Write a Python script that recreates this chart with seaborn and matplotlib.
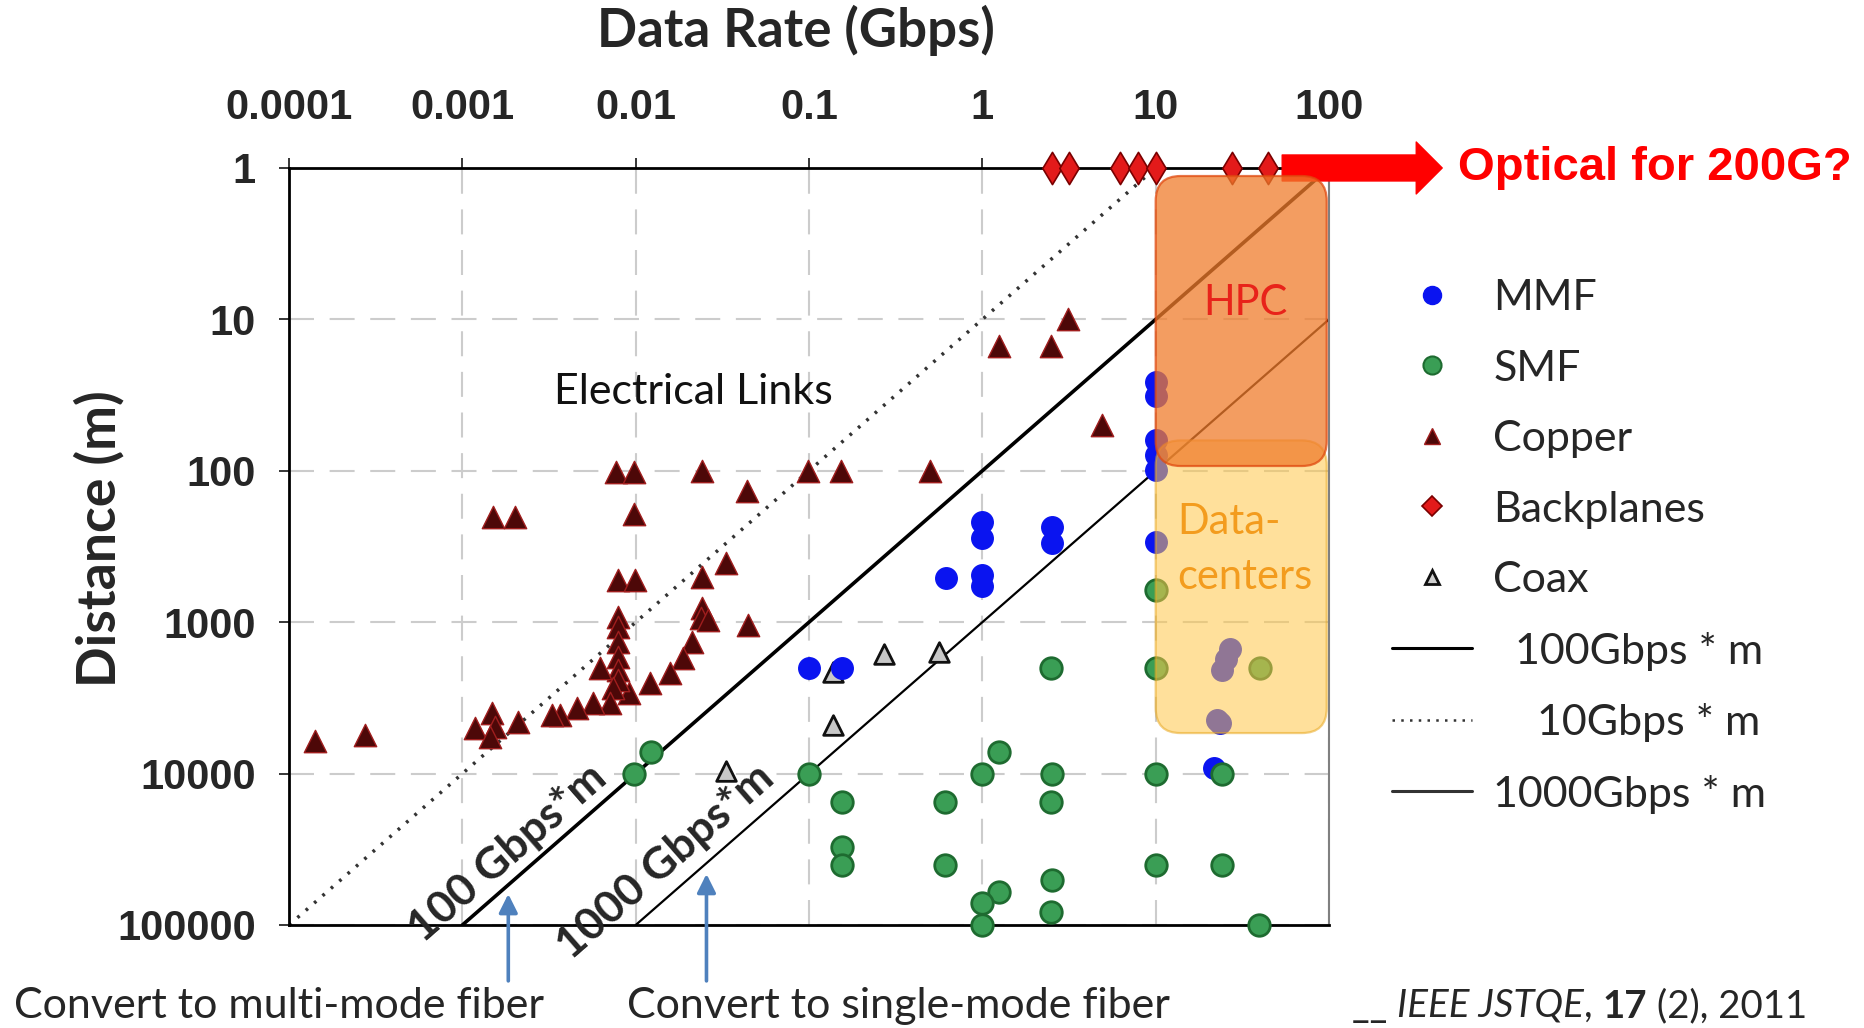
import numpy as np
import matplotlib
matplotlib.use("Agg")
import matplotlib.pyplot as plt
from matplotlib.lines import Line2D
from matplotlib.patches import FancyBboxPatch
from matplotlib.ticker import NullLocator
import seaborn as sns

# axis ticks
rate_ticks = [0.0001, 0.001, 0.01, 0.1, 1, 10, 100]
rate_labels = ["0.0001", "0.001", "0.01", "0.1", "1", "10", "100"]
dist_ticks = [1, 10, 100, 1000, 10000, 100000]
dist_labels = ["1", "10", "100", "1000", "10000", "100000"]

# link data (rate in Gbps, distance in m)
mmf_rate = [0.1, 0.155, 0.62, 1, 1, 1, 1, 2.52, 2.52,
            10, 10, 10, 10, 10, 10, 27, 25.5, 24, 23.6, 22.5, 21.6]
mmf_dist = [2000, 2000, 513, 490, 576, 217, 279, 234, 302,
            26, 32, 63, 79, 99, 294, 1500, 1750, 2070, 4650, 4400, 9230]

smf_rate = [0.0098, 0.0122, 0.1, 0.155, 0.155, 0.155, 0.61, 0.61,
            1, 1.24, 1.24, 1, 1, 2.5, 2.52, 2.5, 2.52, 2.5,
            10, 10, 10, 10, 24.1, 24, 39.2, 40]
smf_dist = [10000, 7170, 10000, 15300, 30400, 40100, 15300, 40100,
            10000, 7170, 60300, 72000, 100000, 2000, 10000, 15300, 50400, 81700,
            613, 2000, 10000, 40100, 10000, 40100, 100000, 2000]

copper_rate = [0.000142, 0.000275, 0.00151, 0.00201,
               0.0077, 0.0098, 0.0098, 0.024, 0.044, 0.098, 0.153, 0.50,
               1.25, 2.5, 3.13, 4.87,
               0.0079, 0.0099, 0.024, 0.0332, 0.024, 0.0237, 0.026, 0.0447,
               0.0211, 0.0188, 0.0158, 0.0121, 0.0091,
               0.0079, 0.0079, 0.0079, 0.0079, 0.0079, 0.0079,
               0.0074, 0.0071, 0.0062, 0.0057, 0.00457, 0.00366, 0.00328,
               0.0021, 0.00148, 0.00154, 0.00118, 0.00145]
copper_dist = [6090, 5560, 203, 203,
               102, 102, 192, 100, 136, 100, 100, 100,
               15, 15, 10, 50,
               526, 526, 500, 408, 810, 943, 967, 1043,
               1344, 1731, 2176, 2535, 2950,
               919, 1071, 1344, 1690, 2070, 2410,
               2733, 3435, 2017, 3435, 3707, 4100, 4100,
               4540, 4000, 4900, 5020, 5700]

backplane_rate = [2.51, 3.18, 6.2, 7.9, 10.1, 27.4, 44.7]
backplane_dist = [1, 1, 1, 1, 1, 1, 1]

coax_rate = [0.137, 0.27, 0.56, 0.137, 0.033]
coax_dist = [2130, 1627, 1570, 4810, 9600]

# constant bandwidth-distance product lines (end points)
line100_rate, line100_dist = [0.001, 100], [100000, 1]
line10_rate, line10_dist = [0.0001, 10], [100000, 1]
line1000_rate, line1000_dist = [0.01, 100], [100000, 10]

# shaded application regions
hpc_rate, hpc_dist = [10, 97], [1.13, 93]
dc_rate, dc_dist = [10, 97], [63, 5400]

sns.set_style("white")
plt.rcParams["font.family"] = ["Lato", "DejaVu Sans"]

fig = plt.figure(figsize=(18.65, 10.28), dpi=100)
ax = fig.add_axes([0.155, 0.1002, 0.5576, 0.7364])
ax.set_xscale("log")
ax.set_yscale("log")
ax.set_xlim(0.0001, 100)
ax.set_ylim(100000, 1)

ax.set_axisbelow(True)
ax.grid(True, which="major", color="#CCCCCC", linestyle=(0, (12, 7.5)), linewidth=1.5)
ax.xaxis.set_minor_locator(NullLocator())
ax.yaxis.set_minor_locator(NullLocator())

ax.xaxis.tick_top()
ax.set_xticks(rate_ticks)
ax.set_xticklabels(rate_labels, fontsize=30, fontweight="bold", family="Liberation Sans")
ax.set_yticks(dist_ticks)
ax.set_yticklabels(dist_labels, fontsize=30, fontweight="bold", family="Liberation Sans")
ax.tick_params(axis="x", which="major", top=True, bottom=False, length=7, width=1.3,
               pad=22, direction="out")
ax.tick_params(axis="y", which="major", left=True, length=7, width=1.3, pad=17, direction="out")

for side in ["top", "left", "bottom"]:
    ax.spines[side].set_color("black")
    ax.spines[side].set_linewidth(2)
ax.spines["right"].set_color("#808080")
ax.spines["right"].set_linewidth(1.5)

ax.xaxis.set_label_position("top")
ax.set_xlabel("Data Rate (Gbps)", fontsize=38, fontweight="bold")
ax.xaxis.set_label_coords(0.487, 1.16)
ax.set_ylabel("Distance (m)", fontsize=38.5, fontweight="bold")
ax.yaxis.set_label_coords(-0.158, 0.511)

# bandwidth*distance lines
sns.lineplot(x=line100_rate, y=line100_dist, ax=ax, color="black", linewidth=2.6,
             estimator=None, zorder=2)
sns.lineplot(x=line10_rate, y=line10_dist, ax=ax, color="#333333", linewidth=2.5,
             linestyle=(0, (0.8, 2.4)), estimator=None, zorder=2)
sns.lineplot(x=line1000_rate, y=line1000_dist, ax=ax, color="black", linewidth=1.6,
             estimator=None, zorder=2)

# data points
sns.scatterplot(x=copper_rate, y=copper_dist, ax=ax, marker="^", s=260, color="#4D0808",
                edgecolor="#A01E1E", linewidth=1.0, zorder=3, clip_on=False, legend=False)
sns.scatterplot(x=coax_rate, y=coax_dist, ax=ax, marker="^", s=200, color="#C8C8C8",
                edgecolor="#111111", linewidth=2.0, zorder=3, clip_on=False, legend=False)
sns.scatterplot(x=mmf_rate, y=mmf_dist, ax=ax, marker="o", s=240, color="#0A14F0",
                edgecolor="#0A14F0", linewidth=1.0, zorder=3, clip_on=False, legend=False)
sns.scatterplot(x=smf_rate, y=smf_dist, ax=ax, marker="o", s=240, color="#3A9E55",
                edgecolor="#1E6B30", linewidth=2.0, zorder=3, clip_on=False, legend=False)
sns.scatterplot(x=backplane_rate, y=backplane_dist, ax=ax, marker="d", s=270, color="#E31A1A",
                edgecolor="#7A0000", linewidth=1.2, zorder=3, clip_on=False, legend=False)

# rounded region boxes (converted to axes fraction through the scales)
to_axes = ax.transData + ax.transAxes.inverted()


def region_box(rates, dists, fc, ec, alpha, z):
    (x0, y0), (x1, y1) = to_axes.transform([(rates[0], dists[0]), (rates[1], dists[1])])
    left, right = min(x0, x1), max(x0, x1)
    bottom, top = min(y0, y1), max(y0, y1)
    box = FancyBboxPatch((left, bottom), right - left, top - bottom,
                         boxstyle="round,pad=0,rounding_size=0.024", mutation_aspect=1.374,
                         transform=ax.transAxes, facecolor=fc, edgecolor=ec, alpha=alpha,
                         linewidth=1.6, zorder=z)
    ax.add_patch(box)


region_box(dc_rate, dc_dist, "#FFC84A", "#E8A820", 0.55, 4)
region_box(hpc_rate, hpc_dist, "#F07C2C", "#E04A10", 0.75, 4.1)

ax.text(32.9, 7.8, "HPC", color="#E8231A", fontsize=30, ha="center", va="center", zorder=5)
ax.text(13.4, 330, "Data-\ncenters", color="#F39C1E", fontsize=30, ha="left", va="center",
        linespacing=1.55, zorder=5)
ax.text(0.0214, 30.4, "Electrical Links", color="#111111", fontsize=31, ha="center",
        va="center", zorder=5)

# rotated labels along the lines
p = ax.transData.transform([(line100_rate[0], line100_dist[0]), (line100_rate[1], line100_dist[1])])
angle = np.degrees(np.arctan2(p[1, 1] - p[0, 1], p[1, 0] - p[0, 0]))
ax.text(0.00182, 33500, "100 Gbps*m", fontsize=32, fontweight="bold", rotation=angle,
        rotation_mode="anchor", ha="center", va="center", zorder=5)
ax.text(0.0149, 38000, "1000 Gbps*m", fontsize=32, fontweight="bold", rotation=angle,
        rotation_mode="anchor", ha="center", va="center", zorder=5)

# blue arrows from the bottom notes
arrow_kw = dict(arrowstyle="-|>", color="#4F81BD", lw=2.6, mutation_scale=28,
                shrinkA=0, shrinkB=0)
ax.annotate("", xy=(0.00184, 62400), xytext=(0.00184, 234000), arrowprops=arrow_kw,
            annotation_clip=False)
ax.annotate("", xy=(0.0256, 46000), xytext=(0.0256, 234000), arrowprops=arrow_kw,
            annotation_clip=False)

# red arrow + question
ax.annotate("", xy=(450, 1), xytext=(53.7, 1), annotation_clip=False,
            arrowprops=dict(arrowstyle="simple,head_length=1.0,head_width=2.0,tail_width=1.0",
                            fc="#FF0000", ec="#FF0000", mutation_scale=18.7,
                            shrinkA=0, shrinkB=0))
fig.text(0.782, 0.8366, "Optical for 200G?", color="#FF0000", fontsize=34, fontweight="bold",
         family="Liberation Sans", ha="left", va="center")

# legend
handles = [
    Line2D([], [], ls="", marker="o", markersize=13, mfc="#0A14F0", mec="#0A14F0"),
    Line2D([], [], ls="", marker="o", markersize=13, mfc="#3A9E55", mec="#1E6B30", mew=1.5),
    Line2D([], [], ls="", marker="^", markersize=11, mfc="#4D0808", mec="#A01E1E", mew=1.0),
    Line2D([], [], ls="", marker="D", markersize=10, mfc="#E31A1A", mec="#7A0000", mew=1.2),
    Line2D([], [], ls="", marker="^", markersize=10, mfc="#D0D0D0", mec="#111111", mew=2.0),
    Line2D([], [], color="black", lw=2.2),
    Line2D([], [], color="#333333", lw=1.8, ls=(0, (1, 2.5))),
    Line2D([], [], color="#333333", lw=2.2),
]
labels = ["MMF", "SMF", "Copper", "Backplanes", "Coax",
          "  100Gbps * m", "    10Gbps * m", "1000Gbps * m"]
fig.legend(handles, labels, loc="upper left", bbox_to_anchor=(1392 / 1865, 1 - 279 / 1028),
           frameon=False, fontsize=31, handlelength=1.86, handletextpad=0.49,
           labelspacing=0.755, borderpad=0, borderaxespad=0)

# bottom notes
fig.text(0.0075, 0.0215, "Convert to multi-mode fiber", fontsize=31, ha="left", va="center")
fig.text(0.336, 0.0215, "Convert to single-mode fiber", fontsize=31, ha="left", va="center")

prev = fig.text(0.725, 0.0215, "__ ", fontsize=27.7, ha="left", va="center")
for piece, kw in [("IEEE JSTQE", dict(style="italic")), (", ", {}),
                  ("17", dict(fontweight="bold")), (" (2), 2011", {})]:
    prev = ax.annotate(piece, xy=(1, 0), xycoords=prev, ha="left", va="bottom",
                       fontsize=27.7, annotation_clip=False, **kw)

fig.savefig("out.png", dpi=100)
